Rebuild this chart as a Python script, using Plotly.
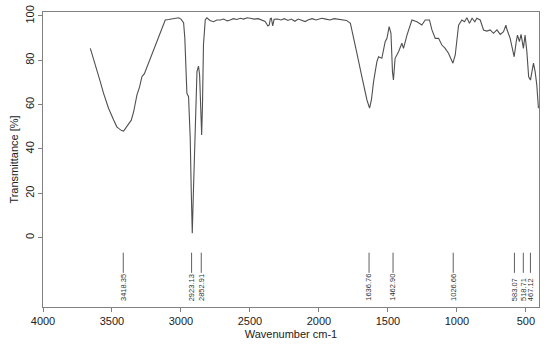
import plotly.graph_objects as go

wavenumber = [3657, 3645, 3633, 3609, 3585, 3561, 3525, 3488, 3465, 3452, 3430, 3416, 3400, 3380, 3360,
              3343, 3319, 3300, 3283, 3265, 3246, 3230, 3210, 3190, 3174, 3155, 3138, 3114, 3090, 3065,
              3040, 3017, 3000, 2990, 2981, 2972, 2964, 2957, 2945, 2933, 2926, 2918, 2909, 2897, 2884,
              2873, 2865, 2855, 2850, 2844, 2837, 2824, 2812, 2790, 2764, 2740, 2715, 2690, 2665, 2643,
              2620, 2595, 2570, 2545, 2520, 2498, 2470, 2440, 2410, 2390, 2370, 2360, 2352, 2345, 2335,
              2325, 2300, 2275, 2250, 2225, 2200, 2175, 2150, 2125, 2100, 2080, 2050, 2020, 2000, 1980,
              1950, 1920, 1890, 1860, 1830, 1800, 1772, 1749, 1725, 1689, 1652, 1633, 1620, 1604, 1580,
              1568, 1544, 1520, 1507, 1491, 1478, 1467, 1460, 1448, 1423, 1399, 1387, 1362, 1326, 1290,
              1254, 1230, 1199, 1181, 1157, 1133, 1109, 1085, 1061, 1029, 1012, 988, 964, 945, 928,
              909, 890, 870, 856, 831, 807, 783, 759, 735, 710, 686, 662, 645, 638, 614,
              597, 585, 570, 561, 547, 535, 518, 506, 493, 480, 467, 457, 445, 433, 421, 409]
transmittance = [85.4, 83.0, 80.9, 75.6, 70.4, 65.1, 58.4, 53.1, 50.0, 49.3, 48.3, 48.1, 49.5, 50.8, 53.0,
                 56.8, 64.4, 68.0, 72.6, 74.0, 77.1, 80.0, 83.2, 86.0, 88.4, 91.5, 94.4, 98.2, 98.4, 98.6,
                 98.8, 99.2, 98.6, 97.8, 97.0, 90.0, 70.0, 65.1, 63.6, 45.0, 22.4, 2.0, 22.4, 52.3, 74.9,
                 77.4, 73.4, 55.3, 46.3, 59.9, 86.9, 98.2, 99.2, 98.0, 97.4, 98.2, 98.2, 98.6, 97.8, 98.2,
                 98.8, 98.4, 99.0, 98.6, 99.2, 99.0, 98.6, 98.8, 98.2, 97.5, 95.5, 96.0, 98.8, 99.0, 95.5,
                 98.5, 98.6, 98.2, 98.8, 98.0, 98.6, 97.6, 98.6, 98.0, 97.5, 98.2, 98.8, 98.2, 98.6, 99.0,
                 98.6, 98.2, 98.8, 98.6, 98.4, 98.0, 96.7, 90.7, 83.2, 72.6, 62.1, 58.4, 62.0, 70.4, 79.4,
                 81.6, 80.9, 88.4, 89.9, 95.2, 92.2, 74.9, 71.1, 80.9, 83.9, 87.7, 85.4, 91.4, 98.2, 97.4,
                 95.9, 98.2, 98.2, 93.7, 89.9, 89.9, 86.9, 85.4, 83.2, 78.7, 82.4, 95.9, 98.2, 97.4, 99.2,
                 96.7, 99.0, 97.4, 99.0, 98.2, 93.7, 93.2, 93.7, 92.2, 93.7, 91.7, 92.9, 95.9, 94.0, 89.9,
                 84.0, 81.6, 88.4, 91.4, 88.4, 91.7, 85.4, 91.4, 83.9, 72.6, 71.1, 75.6, 78.7, 74.9, 68.9, 58.4]

peak_positions = [3418.35, 2923.13, 2852.91, 1636.76, 1462.90, 1026.66, 583.07, 518.71, 467.12]
peak_labels = ["3418.35", "2923.13", "2852.91", "1636.76", "1462.90", "1026.66", "583.07", "518.71", "467.12"]

x_ticks = [4000, 3500, 3000, 2500, 2000, 1500, 1000, 500]
y_ticks = [0, 20, 40, 60, 80, 100]

FONT = "Liberation Sans, Arial, sans-serif"
LINE_TOP, LINE_BOTTOM, LABEL_BASE = -6.8, -15.9, -29.6

fig = go.Figure()
fig.add_trace(go.Scatter(x=wavenumber, y=transmittance, mode="lines",
                         line=dict(color="#505050", width=1.1), showlegend=False, hoverinfo="skip"))

mx, my = [], []
for p in peak_positions:
    mx += [p, p, None]
    my += [LINE_TOP, LINE_BOTTOM, None]
fig.add_trace(go.Scatter(x=mx, y=my, mode="lines", line=dict(color="#606060", width=1),
                         showlegend=False, hoverinfo="skip"))

for p, lab in zip(peak_positions, peak_labels):
    fig.add_annotation(x=p, y=LABEL_BASE, text=lab, showarrow=False, textangle=-90,
                       xanchor="center", yanchor="bottom",
                       font=dict(family=FONT, size=7.5, color="#333333"))

fig.update_layout(
    width=550, height=348,
    margin=dict(l=43, r=11, t=12, b=41, autoexpand=False),
    paper_bgcolor="white", plot_bgcolor="white",
    font=dict(family=FONT, size=11, color="#222222"),
)
fig.update_xaxes(range=[4000, 405], tickvals=x_ticks, ticktext=[str(v) for v in x_ticks],
                 showgrid=False, zeroline=False, showline=True, linecolor="#808080", linewidth=1,
                 mirror=True, ticks="outside", ticklen=4, tickcolor="#808080", automargin=False,
                 tickfont=dict(size=11), title=dict(text="Wavenumber cm-1", font=dict(size=11), standoff=4))
fig.update_yaxes(range=[-31.3, 101.8], tickvals=y_ticks, ticktext=[str(v) for v in y_ticks],
                 showgrid=False, zeroline=False, showline=True, linecolor="#808080", linewidth=1,
                 mirror=True, ticks="outside", ticklen=4, tickcolor="#808080", tickangle=-90,
                 automargin=False,
                 tickfont=dict(size=11), title=dict(text="Transmittance [%]", font=dict(size=11), standoff=2))

fig.write_html("out.html", config={"displayModeBar": False},
               post_script="document.body.style.margin='0px';")
